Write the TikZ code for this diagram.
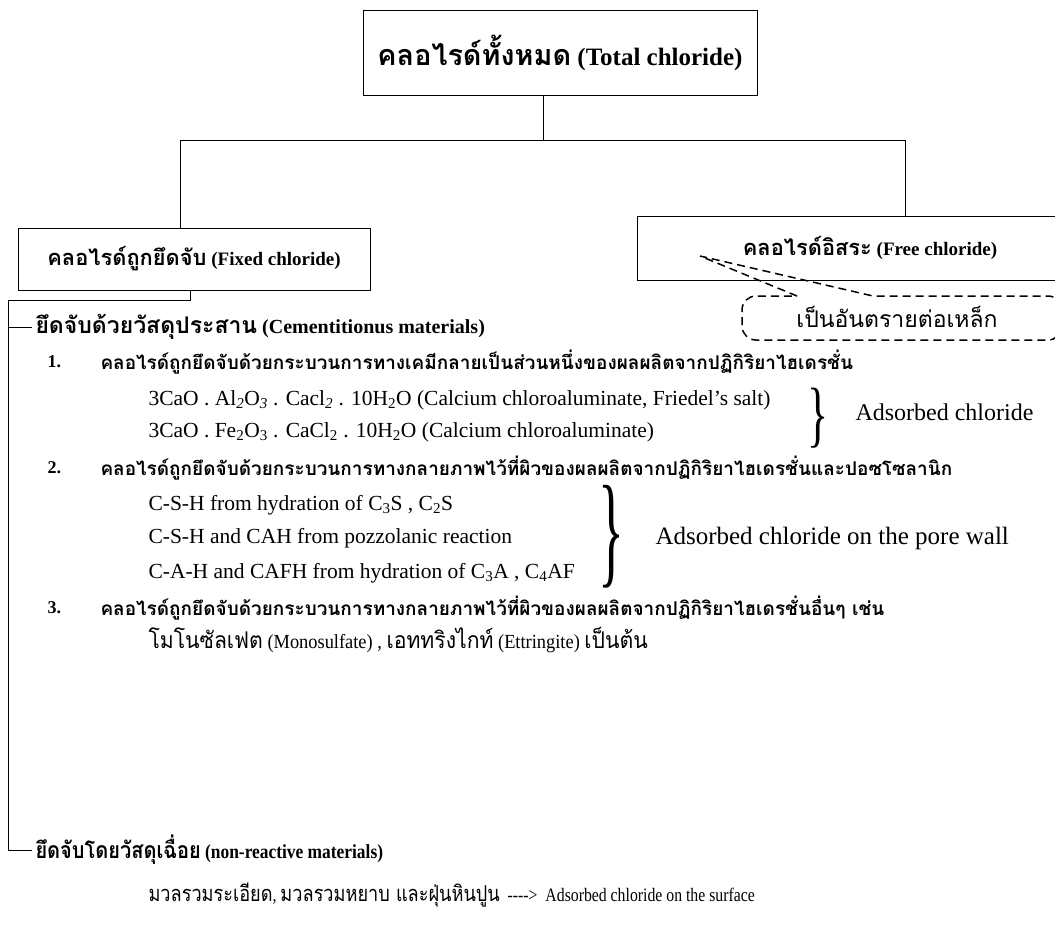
\documentclass[tikz,border=0pt]{standalone}
\usepackage{fontspec}
\setmainfont{Liberation Serif}
\newfontfamily\thaifont[Script=Thai,Scale=1.15]{Loma}
\newcommand{\tth}[1]{{\thaifont #1}}
\usetikzlibrary{calc}

\tikzset{
  box/.style={draw, inner sep=2pt},
  txt/.style={anchor=west, inner sep=3pt},
  callout/.style={line width=1.5pt, dash pattern=on 8pt off 5pt},
}

\begin{document}
\begin{tikzpicture}[x=1pt, y=-1pt, line width=1pt]
\useasboundingbox (0,0) rectangle (1055,930);

% boxes
\node[box, minimum width=394pt, minimum height=85pt, font=\bfseries\fontsize{25}{29}\selectfont] (total) at (560,52.5) {\tth{คลอไรด์ทั้งหมด} (Total chloride)};
\node[box, minimum width=352pt, minimum height=62pt, font=\bfseries\fontsize{19}{23}\selectfont] (fixed) at (194,259) {\tth{คลอไรด์ถูกยึดจับ} (Fixed chloride)};
\node[box, minimum width=466pt, minimum height=64pt, font=\bfseries\fontsize{19}{23}\selectfont] (free) at (870,248) {\tth{คลอไรด์อิสระ} (Free chloride)};

\coordinate (split) at (543,140);
\coordinate (fixin) at (180,140);
\coordinate (freein) at (905,140);
\draw (split |- total.south) -- (split);
\draw (fixin |- fixed.north) -- (fixin) -- (freein) -- (freein |- free.north);

% callout
\coordinate (tip) at (700,256);
\node[font=\fontsize{20}{24}\selectfont] (warn) at (897,317) {\tth{เป็นอันตรายต่อเหล็ก}};
\draw[callout] (797,296) -- (tip) -- (873,296) [rounded corners=14pt] -- (1062,296) -- (1062,340) -- (742,340) -- (742,296) -- (797,296);

% fixed chloride
\node[txt, font=\bfseries\fontsize{20}{24}\selectfont] (cement) at (32,327) {\tth{ยึดจับด้วยวัสดุประสาน} (Cementitionus materials)};

\node[txt, font=\bfseries\fontsize{18}{21}\selectfont] (num1) at (44,362) {1.};
\node[txt, font=\bfseries\fontsize{16.5}{19}\selectfont] (item1) at (97,362) {\tth{คลอไรด์ถูกยึดจับด้วยกระบวนการทางเคมีกลายเป็นส่วนหนึ่งของผลผลิตจากปฏิกิริยาไฮเดรชั่น}};
\node[txt, font=\fontsize{21.5}{25}\selectfont] (cal1) at (145,400) {3CaO . Al\textsubscript{\itshape 2}O\textsubscript{\itshape 3} . Cacl\textsubscript{\itshape 2} . 10H\textsubscript{2}O (Calcium chloroaluminate, Friedel’s salt)};
\node[txt, font=\fontsize{21.5}{25}\selectfont] (cal2) at (145,432) {3CaO . Fe\textsubscript{2}O\textsubscript{3} . CaCl\textsubscript{2} . 10H\textsubscript{2}O (Calcium chloroaluminate)};
\node (brc1) at (818,418) {\scalebox{1}[1.65]{\fontsize{44}{44}\selectfont\}}};
\node[txt, font=\fontsize{24}{28}\selectfont] (ads1) at (852,412) {Adsorbed chloride};

\node[txt, font=\bfseries\fontsize{18}{21}\selectfont] (num2) at (44,468) {2.};
\node[txt, font=\bfseries\fontsize{16.5}{19}\selectfont] (item2) at (97,468) {\tth{คลอไรด์ถูกยึดจับด้วยกระบวนการทางกลายภาพไว้ที่ผิวของผลผลิตจากปฏิกิริยาไฮเดรชั่นและปอซโซลานิก}};
\node[txt, font=\fontsize{21.5}{25}\selectfont] (csh1) at (145,505) {C-S-H from hydration of C\textsubscript{3}S , C\textsubscript{2}S};
\node[txt, font=\fontsize{21.5}{25}\selectfont] (csh2) at (145,538) {C-S-H and CAH from pozzolanic reaction};
\node[txt, font=\fontsize{21.5}{25}\selectfont] (csh3) at (145,573) {C-A-H and CAFH from hydration of C\textsubscript{3}A , C\textsubscript{4}AF};
\node (brc2) at (611,537) {\scalebox{1}[2.3]{\fontsize{54}{54}\selectfont\}}};
\node[txt, font=\fontsize{25}{29}\selectfont] (ads2) at (652,538) {Adsorbed chloride on the pore wall};

\node[txt, font=\bfseries\fontsize{18}{21}\selectfont] (num3) at (44,608) {3.};
\node[txt, font=\bfseries\fontsize{16.5}{19}\selectfont] (item3) at (97,608) {\tth{คลอไรด์ถูกยึดจับด้วยกระบวนการทางกลายภาพไว้ที่ผิวของผลผลิตจากปฏิกิริยาไฮเดรชั่นอื่นๆ เช่น}};
\node[txt, font=\fontsize{20}{23}\selectfont] (mono) at (145,640) {\scalebox{0.92}[1]{\tth{โมโนซัลเฟต} (Monosulfate) , \tth{เอททริงไกท์} (Ettringite) \tth{เป็นต้น}}};

\node[txt, font=\bfseries\fontsize{20}{23}\selectfont] (inert) at (32,850) {\scalebox{0.87}[1]{\tth{ยึดจับโดยวัสดุเฉื่อย} (non-reactive materials)}};
\node[txt, font=\fontsize{19}{22}\selectfont] (surf) at (145,895) {\scalebox{0.83}[1]{\tth{มวลรวมระเอียด}, \tth{มวลรวมหยาบ และฝุ่นหินปูน}\ \ -{}-{}-{}->\ \ Adsorbed chloride on the surface}};

% trunk
\coordinate (fixout) at (190,300);
\coordinate (trunk) at (8,300);
\draw (fixout |- fixed.south) -- (fixout) -- (trunk) |- (inert.west);
\draw (trunk |- cement.west) -- (cement.west);

\end{tikzpicture}
\end{document}
